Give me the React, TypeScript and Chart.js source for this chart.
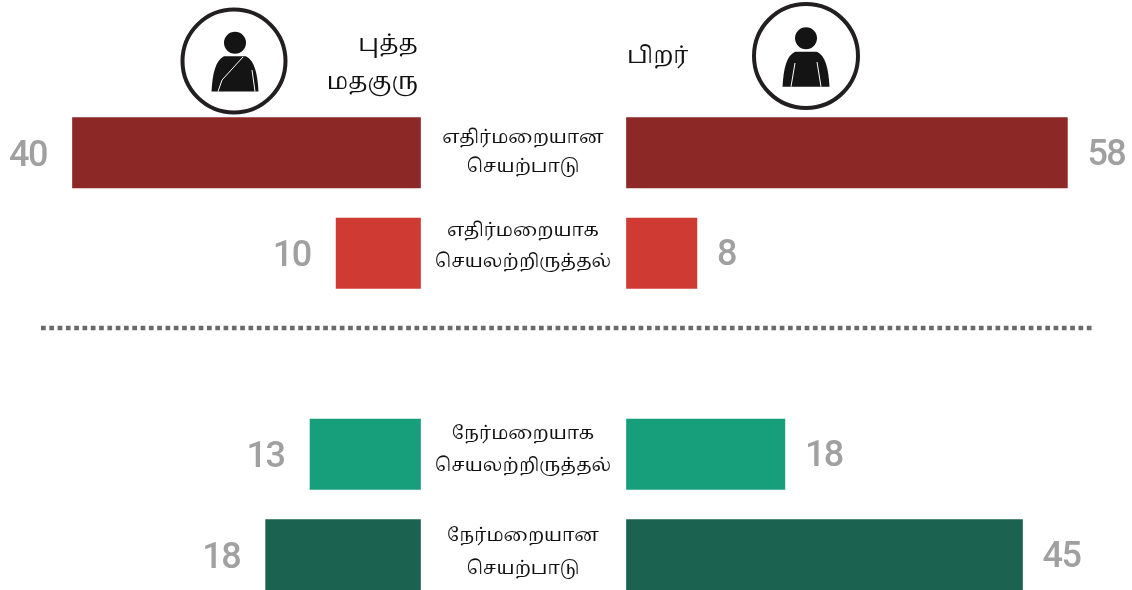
import React, { useEffect, useRef } from "react";
import { Chart, registerables } from "chart.js";

Chart.register(...registerables);

const WIDTH = 1132;
const HEIGHT = 590;

// Row positions: 0,1 above the dotted divider, 3,4 below it
const rowIndex = [0, 1, 3, 4];
const rowColors = ["#8C2825", "#CF3A32", "#179E7B", "#1C6250"];

// Bar lengths as drawn (the 58 bar is drawn shorter than its label in the source)
const monkBarLengths = [40, 9.7, 12.7, 17.8];
const othersBarLengths = [50.1, 8, 18, 45];

// Printed values
const monkLabels = ["40", "10", "13", "18"];
const othersLabels = ["58", "8", "18", "45"];

const rowLabels = [
  ["எதிர்மறையான", "செயற்பாடு"],
  ["எதிர்மறையாக", "செயலற்றிருத்தல்"],
  ["நேர்மறையாக", "செயலற்றிருத்தல்"],
  ["நேர்மறையான", "செயற்பாடு"],
];
const monkHeader = ["புத்த", "மதகுரு"];
const othersHeader = ["பிறர்"];

// Per-row vertical offsets of the two centre-label lines
const labelLineOffsets = [
  [-13, 15.5],
  [-21, 10.5],
  [-19, 13.5],
  [-17, 15.5],
];

const TAMIL_STACK = '"Noto Serif Tamil","Latha","Liberation Serif",serif';
const GREY = "#A0A0A0";
const INK = "#111111";

function ring(ctx: CanvasRenderingContext2D, x: number, y: number, r: number) {
  ctx.beginPath();
  ctx.arc(x, y, r, 0, Math.PI * 2);
  ctx.lineWidth = 4;
  ctx.strokeStyle = "#231F20";
  ctx.stroke();
}

function person(ctx: CanvasRenderingContext2D, cx: number, headY: number, bottom: number, halfW: number) {
  ctx.fillStyle = "#141414";
  ctx.beginPath();
  ctx.arc(cx, headY, 11, 0, Math.PI * 2);
  ctx.fill();
  const top = headY + 13.5;
  ctx.beginPath();
  ctx.moveTo(cx - halfW, bottom);
  ctx.bezierCurveTo(cx - halfW + 1, bottom - 18, cx - halfW + 4, top + 4, cx - 11, top);
  ctx.lineTo(cx + 11, top);
  ctx.bezierCurveTo(cx + halfW - 4, top + 4, cx + halfW - 1, bottom - 18, cx + halfW, bottom);
  ctx.closePath();
  ctx.fill();
}

const artPlugin = {
  id: "art",
  afterDatasetsDraw(chart: any) {
    const { ctx, scales } = chart;
    const y = scales.y;
    const xm = scales.xMonk;
    const xo = scales.xOthers;
    ctx.save();

    // Value labels
    ctx.font = '500 36px Roboto, "Noto Sans", sans-serif';
    (ctx as any).letterSpacing = "-1.5px";
    ctx.fillStyle = GREY;
    ctx.textBaseline = "middle";
    rowIndex.forEach((r, i) => {
      const py = y.getPixelForValue(r);
      ctx.textAlign = "right";
      ctx.fillText(monkLabels[i], xm.getPixelForValue(monkBarLengths[i]) - 25.5, py + 4);
      ctx.textAlign = "left";
      ctx.fillText(othersLabels[i], xo.getPixelForValue(othersBarLengths[i]) + 20, py + 3);
    });
    (ctx as any).letterSpacing = "0px";

    // Centre labels
    ctx.fillStyle = INK;
    ctx.textAlign = "center";
    ctx.font = `18.5px ${TAMIL_STACK}`;
    rowIndex.forEach((r, i) => {
      const py = y.getPixelForValue(r);
      ctx.fillText(rowLabels[i][0], 523, py + labelLineOffsets[i][0]);
      ctx.fillText(rowLabels[i][1], 523, py + labelLineOffsets[i][1]);
    });

    // Column headers
    ctx.font = `23px ${TAMIL_STACK}`;
    ctx.textAlign = "right";
    ctx.fillText(monkHeader[0], 418, 47);
    ctx.fillText(monkHeader[1], 418, 85);
    ctx.textAlign = "left";
    ctx.fillText(othersHeader[0], 627, 59);

    // Dotted divider
    ctx.beginPath();
    ctx.setLineDash([4.7, 3.6]);
    ctx.lineWidth = 4.5;
    ctx.strokeStyle = "#6A6A6A";
    ctx.moveTo(41, 328);
    ctx.lineTo(1095, 328);
    ctx.stroke();
    ctx.setLineDash([]);

    // Monk icon
    ring(ctx, 234, 61, 51.5);
    person(ctx, 235, 42.7, 91.5, 23.5);
    ctx.strokeStyle = "#FFFFFF";
    ctx.lineWidth = 1;
    ctx.beginPath();
    ctx.moveTo(243, 57);
    ctx.lineTo(222, 80);
    ctx.lineTo(218, 91.5);
    ctx.stroke();
    ctx.beginPath();
    ctx.moveTo(252, 70);
    ctx.lineTo(255, 91.5);
    ctx.stroke();

    // Other-person icon
    ring(ctx, 806, 56, 52);
    person(ctx, 806, 38.3, 86.7, 23.5);
    ctx.strokeStyle = "#FFFFFF";
    ctx.lineWidth = 1;
    ctx.beginPath();
    ctx.moveTo(795, 63);
    ctx.lineTo(791, 86.7);
    ctx.moveTo(817, 62);
    ctx.lineTo(821, 86.7);
    ctx.stroke();

    ctx.restore();
  },
};

export default function App() {
  const ref = useRef<HTMLCanvasElement | null>(null);

  useEffect(() => {
    if (!ref.current) return;
    const monkZero = 420.5;
    const othersZero = 626.5;
    const monkPx = 8.7;
    const othersPx = 8.8;
    const rowPx = 100.5;
    const firstRowCentre = 152.75;

    const chart = new Chart(ref.current, {
      type: "bar",
      data: {
        datasets: [
          {
            label: "புத்த மதகுரு",
            data: rowIndex.map((r, i) => ({ x: monkBarLengths[i], y: r })),
            backgroundColor: rowColors,
            xAxisID: "xMonk",
            yAxisID: "y",
            barThickness: 70.5,
            grouped: false,
            borderWidth: 0,
          },
          {
            label: "பிறர்",
            data: rowIndex.map((r, i) => ({ x: othersBarLengths[i], y: r })),
            backgroundColor: rowColors,
            xAxisID: "xOthers",
            yAxisID: "y",
            barThickness: 70.5,
            grouped: false,
            borderWidth: 0,
          },
        ],
      } as any,
      options: {
        indexAxis: "y",
        responsive: false,
        animation: false,
        maintainAspectRatio: false,
        layout: { padding: 0 },
        plugins: { legend: { display: false }, tooltip: { enabled: false }, title: { display: false } },
        scales: {
          xMonk: {
            type: "linear",
            display: false,
            reverse: true,
            min: (monkZero - WIDTH) / monkPx,
            max: monkZero / monkPx,
          },
          xOthers: {
            type: "linear",
            display: false,
            min: -othersZero / othersPx,
            max: (WIDTH - othersZero) / othersPx,
          },
          y: {
            type: "linear",
            display: false,
            reverse: true,
            offset: false,
            min: -firstRowCentre / rowPx,
            max: (HEIGHT - firstRowCentre) / rowPx,
          },
        },
      } as any,
      plugins: [artPlugin],
    });
    return () => chart.destroy();
  }, []);

  return (
    <div style={{ position: "fixed", left: 0, top: 0, width: WIDTH, height: HEIGHT, background: "#fff" }}>
      <canvas ref={ref} width={WIDTH} height={HEIGHT} style={{ display: "block" }} />
    </div>
  );
}
